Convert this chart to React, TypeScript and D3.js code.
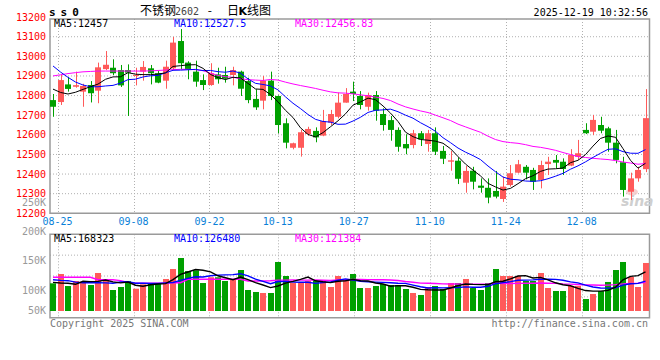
import React from "react";
import * as d3 from "d3";

const dates = [
  "08-22",
  "08-25","08-26","08-27","08-28","08-29",
  "09-01","09-02","09-03","09-04","09-05",
  "09-08","09-09","09-10","09-11","09-12",
  "09-15","09-16","09-17","09-18","09-19",
  "09-22","09-23","09-24","09-25","09-26",
  "09-29","09-30",
  "10-09","10-10",
  "10-13","10-14","10-15","10-16","10-17",
  "10-20","10-21","10-22","10-23","10-24",
  "10-27","10-28","10-29","10-30","10-31",
  "11-03","11-04","11-05","11-06","11-07",
  "11-10","11-11","11-12","11-13","11-14",
  "11-17","11-18","11-19","11-20","11-21",
  "11-24","11-25","11-26","11-27","11-28",
  "12-01","12-02","12-03","12-04","12-05",
  "12-08","12-09","12-10","12-11","12-12",
  "12-15","12-16","12-17","12-18","12-19",
];

const opens = [
  12777,12767,12857,12845,12820,12854,12825,12935,12942,12930,
  12930,12900,12922,12939,12914,12876,12939,13078,12968,12922,
  12879,12854,12908,12905,12905,12922,12874,12783,12774,12876,
  12798,12659,12534,12534,12604,12620,12596,12662,12692,12764,
  12820,12798,12743,12803,12706,12675,12625,12553,12548,12608,
  12553,12608,12518,12463,12468,12356,12417,12341,12330,12314,
  12273,12344,12407,12437,12421,12370,12451,12472,12463,12443,
  12488,12625,12616,12650,12633,12560,12460,12310,12378,12425,
];
const highs = [
  12808,12905,12895,12922,12860,12874,12968,13027,12985,12956,
  12959,12942,12976,12956,12925,12978,13099,13139,12975,12978,
  12908,12965,12942,12947,12947,12927,12891,12832,12900,12922,
  12800,12684,12560,12625,12641,12638,12727,12727,12815,12838,
  12871,12823,12815,12823,12735,12696,12638,12603,12625,12619,
  12625,12638,12543,12518,12485,12441,12437,12378,12378,12416,
  12387,12446,12472,12446,12432,12468,12488,12497,12480,12527,
  12574,12659,12701,12692,12641,12625,12488,12407,12437,12833,
];
const lows = [
  12692,12752,12820,12840,12743,12765,12761,12930,12905,12844,
  12696,12852,12876,12857,12863,12835,12930,12935,12883,12845,
  12828,12850,12861,12866,12852,12798,12761,12727,12730,12777,
  12608,12531,12526,12489,12595,12562,12593,12650,12684,12764,
  12772,12730,12723,12672,12621,12570,12514,12501,12531,12543,
  12514,12497,12451,12417,12349,12305,12322,12305,12251,12276,
  12258,12336,12404,12373,12319,12327,12395,12429,12395,12440,
  12472,12604,12599,12608,12514,12455,12285,12268,12361,12410,
];
const closes = [
  12743,12879,12834,12853,12849,12812,12944,12957,12914,12852,
  12917,12905,12946,12914,12866,12947,13070,12965,12934,12871,
  12854,12914,12883,12886,12930,12835,12777,12740,12876,12798,
  12650,12560,12557,12613,12630,12587,12670,12706,12764,12808,
  12808,12752,12803,12723,12650,12625,12539,12531,12608,12577,
  12608,12514,12478,12470,12376,12416,12361,12330,12280,12285,
  12336,12404,12450,12407,12361,12446,12463,12458,12426,12497,
  12506,12608,12676,12621,12560,12472,12319,12378,12421,12685,
];
const volumes = [
  111400,127300,106800,115400,113700,108500,129000,118300,100000,105100,
  115400,102200,109700,111900,111900,118800,135800,154600,132400,133600,
  111900,121700,121700,115400,117100,134100,100000,96600,94900,94900,
  147800,123900,111900,111900,115400,115400,115400,105100,123900,118800,
  127300,103400,103400,106800,110200,108500,108500,101700,94900,91500,
  105100,106800,101700,111900,111900,118800,103400,100000,111900,135800,
  123900,123900,123900,115400,115400,129000,103400,98300,98300,107000,
  107000,84600,93200,98300,113700,134100,147800,122200,105100,146100,
];

// moving-average values at the start of the window (computed before 08-22)
const priceMa5Lead = [12833, 12816, 12808, 12817];
const priceMa10Lead = [12951, 12920, 12893, 12869, 12854, 12845, 12845, 12849, 12852];
const priceMa30Lead = [
  12900,12906,12912,12917,12921,12923,12925,12925,12925,12925,
  12925,12925,12925,12926,12928,12930,12932,12934,12934,12932,
  12927,12914,12903,12896,12893,12886,12881,12879,12877,
];
const volMa5Lead = [113000, 112000, 111400, 109700];
const volMa10Lead = [117500, 116500, 115900, 113500, 112500, 112500, 112500, 112200, 111500];
const volMa30Lead = [
  121700,121700,121700,121700,121700,121700,117500,117500,117500,116000,
  113000,111400,111400,111400,111400,111400,112500,112500,118300,118300,
  118300,118300,118300,118300,118300,118300,115400,115400,115400,
];

const dateTicks = ["08-25", "09-08", "09-22", "10-13", "10-27", "11-10", "11-24", "12-08"];
const priceTicks = [13200, 13100, 13000, 12900, 12800, 12700, 12600, 12500, 12400, 12300, 12200];
const volTicks = [250000, 200000, 150000, 100000, 50000];

const RED = "#ff5a5a";
const GREEN = "#00a000";
const MONO = "'DejaVu Sans Mono', 'Liberation Mono', monospace";
const CJK = "'Noto Sans CJK SC', sans-serif";

function movingAvg(values: number[], n: number, lead: number[]) {
  return values.map((_, i) =>
    i < n - 1 ? lead[i] : (d3.mean(values.slice(i - n + 1, i + 1)) as number)
  );
}

export default function App() {
  const L = 50, R = 650;
  const xBar = d3.scaleLinear().domain([0, dates.length]).range([L, R]);
  const xGrid = d3.scaleLinear().domain([0, dates.length - 1]).range([L, R]);
  const yP = d3.scaleLinear().domain([12200, 13200]).range([213.3, 17.1]);
  const yV = d3.scaleLinear().domain([50000, 250000]).range([319.3, 202.1]);
  const vBase = 311;
  const bw = 6;
  const cx = (i: number) => xBar(i) + bw / 2;

  const pTop = 19, pBot = 213.3;
  const vTop = 234.3, vBot = 317.7;
  const rEdge = 649.5;

  const pm5 = movingAvg(closes, 5, priceMa5Lead);
  const pm10 = movingAvg(closes, 10, priceMa10Lead);
  const pm30 = movingAvg(closes, 30, priceMa30Lead);
  const vm5 = movingAvg(volumes, 5, volMa5Lead);
  const vm10 = movingAvg(volumes, 10, volMa10Lead);
  const vm30 = movingAvg(volumes, 30, volMa30Lead);

  const pLine = d3.line<number>().x((_, i) => cx(i)).y((d) => yP(d));
  const vLine = d3.line<number>().x((_, i) => cx(i)).y((d) => yV(d));

  const gridStroke = "#b0b0b0";
  const frame = "#9a9a9a";
  const vQuarter = [1, 2, 3].map((k) => vTop + ((vBot - vTop) * k) / 4);

  return (
    <svg
      width={660}
      height={360}
      style={{ position: "absolute", left: 0, top: 0, background: "#fff" }}
    >
      <rect x={0} y={0} width={660} height={360} fill="#fff" />

      {/* header */}
      <text x={49} y={16} fontFamily={MONO} fontSize={11} fontWeight="bold" letterSpacing={5} fill="#000">
        ss0
      </text>
      <text y={15} fill="#000" fontSize={12} fontFamily={CJK}>
        <tspan x={140}>不锈钢</tspan>
        <tspan x={175} fontFamily={MONO} fontSize={10} fill="#444">2602</tspan>
        <tspan x={205}> - </tspan>
        <tspan x={227}>日</tspan>
        <tspan x={238.5} fontWeight="bold" fontFamily="'DejaVu Sans', sans-serif" fontSize={11}>K</tspan>
        <tspan x={247}>线图</tspan>
      </text>
      <text x={648} y={15.5} textAnchor="end" fontFamily={MONO} fontSize={10} fill="#000">
        2025-12-19 10:32:56
      </text>

      {/* price grid */}
      {priceTicks.slice(1, -1).map((t) => (
        <line key={"pg" + t} x1={L} x2={rEdge} y1={yP(t)} y2={yP(t)} stroke={gridStroke} strokeDasharray="1,2" />
      ))}
      {dateTicks.map((d) => {
        const gx = Math.round(xGrid(dates.indexOf(d))) + 0.5;
        return (
          <g key={"vg" + d}>
            <line x1={gx} x2={gx} y1={pTop} y2={pBot} stroke={gridStroke} strokeDasharray="1,2" />
            <line x1={gx} x2={gx} y1={vTop} y2={vBot} stroke={gridStroke} strokeDasharray="1,2" />
          </g>
        );
      })}
      {vQuarter.map((y) => (
        <line key={"vq" + y} x1={L} x2={rEdge} y1={y} y2={y} stroke={gridStroke} strokeDasharray="1,2" />
      ))}

      {/* frames */}
      <path d={`M${L},${pTop}H${rEdge}V${pBot}H${L}Z`} fill="none" stroke={frame} strokeWidth={1.5} />
      <path d={`M${L},${vTop}H${rEdge}V${vBot}H${L}Z`} fill="none" stroke={frame} strokeWidth={1.5} />

      {/* watermark */}
      <ellipse cx={632} cy={192} rx={6} ry={3.5} fill="#f3c4c4" opacity={0.8} />
      <text x={621} y={206} fontFamily="'DejaVu Sans', sans-serif" fontStyle="italic" fontWeight="bold" fontSize={14} fill="#cfcfcf">
        sina
      </text>

      {/* candles */}
      {closes.map((c, i) => {
        const o = opens[i];
        const up = c >= o;
        const col = up ? RED : GREEN;
        const top = yP(Math.max(o, c));
        const bot = yP(Math.min(o, c));
        const wx = Math.round(cx(i)) + 0.5;
        return (
          <g key={"c" + i}>
            <line x1={wx} x2={wx} y1={yP(highs[i])} y2={yP(lows[i])} stroke={col} strokeWidth={1} />
            <rect x={Math.round(xBar(i))} y={top} width={bw} height={Math.max(1, bot - top)} fill={col} />
          </g>
        );
      })}

      {/* price MA lines */}
      <path d={pLine(pm30) || ""} fill="none" stroke="#ff00ff" strokeWidth={1} />
      <path d={pLine(pm10) || ""} fill="none" stroke="#0000ff" strokeWidth={1} />
      <path d={pLine(pm5) || ""} fill="none" stroke="#000" strokeWidth={1} />

      {/* price axis labels */}
      {priceTicks.map((t) => (
        <text key={"pl" + t} x={46} y={yP(t)} dy="0.35em" textAnchor="end" fontFamily={MONO} fontSize={10} fill="#ff0000">
          {t}
        </text>
      ))}

      {/* date labels */}
      {dateTicks.map((d) => (
        <text key={"dl" + d} x={xGrid(dates.indexOf(d))} y={225} textAnchor="middle" fontFamily={MONO} fontSize={10} fill="#0a7fd8">
          {d}
        </text>
      ))}

      {/* price MA legend */}
      <text x={54} y={27} fontFamily={MONO} fontSize={10} fill="#000">MA5:12457</text>
      <text x={174} y={27} fontFamily={MONO} fontSize={10} fill="#0000ff">MA10:12527.5</text>
      <text x={295} y={27} fontFamily={MONO} fontSize={10} fill="#ff00ff">MA30:12456.83</text>

      {/* volume bars */}
      {volumes.map((v, i) => {
        const up = closes[i] >= opens[i];
        const y = yV(v);
        return (
          <rect key={"v" + i} x={Math.round(xBar(i))} y={y} width={bw} height={vBase - y} fill={up ? RED : GREEN} />
        );
      })}

      {/* volume MA lines */}
      <path d={vLine(vm30) || ""} fill="none" stroke="#ff00ff" strokeWidth={1.4} />
      <path d={vLine(vm10) || ""} fill="none" stroke="#0000ff" strokeWidth={1.4} />
      <path d={vLine(vm5) || ""} fill="none" stroke="#000" strokeWidth={1.4} />

      {/* volume axis labels */}
      {volTicks.map((t) => (
        <text key={"vl" + t} x={46} y={Math.min(yV(t), 310)} dy="0.35em" textAnchor="end" fontFamily={MONO} fontSize={10} fill="#999">
          {t / 1000 + "K"}
        </text>
      ))}

      {/* volume MA legend */}
      <text x={54} y={241.5} fontFamily={MONO} fontSize={10} fill="#000">MA5:168323</text>
      <text x={174} y={241.5} fontFamily={MONO} fontSize={10} fill="#0000ff">MA10:126480</text>
      <text x={295} y={241.5} fontFamily={MONO} fontSize={10} fill="#ff00ff">MA30:121384</text>

      {/* footer */}
      <text x={50} y={327} fontFamily={MONO} fontSize={10} fill="#777">Copyright 2025 SINA.COM</text>
      <text x={648} y={327} textAnchor="end" fontFamily={MONO} fontSize={10} fill="#777">http://finance.sina.com.cn</text>
    </svg>
  );
}
